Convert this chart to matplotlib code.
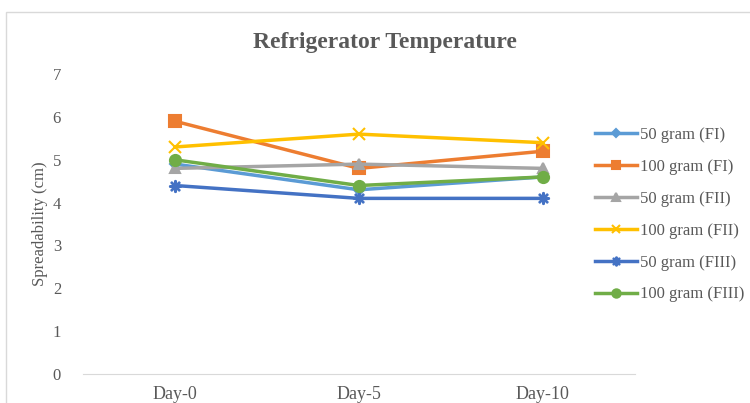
import matplotlib.pyplot as plt
from matplotlib.patches import Rectangle

days = ['Day-0', 'Day-5', 'Day-10']
series_names = ['50 gram (FI)', '100 gram (FI)', '50 gram (FII)',
                '100 gram (FII)', '50 gram (FIII)', '100 gram (FIII)']
fi_50 = [4.9, 4.3, 4.6]
fi_100 = [5.9, 4.8, 5.2]
fii_50 = [4.8, 4.9, 4.8]
fii_100 = [5.3, 5.6, 5.4]
fiii_50 = [4.4, 4.1, 4.1]
fiii_100 = [5.0, 4.4, 4.6]

values = [fi_50, fi_100, fii_50, fii_100, fiii_50, fiii_100]
colors = ['#5B9BD5', '#ED7D31', '#A5A5A5', '#FFC000', '#4472C4', '#70AD47']
markers = ['D', 's', '^', 'x', '$\u2733$', 'o']
msizes = [5, 8, 7, 8, 8, 8]

plt.rcParams['font.family'] = ['Liberation Serif', 'DejaVu Serif']

fig = plt.figure(figsize=(7.5, 4.03), dpi=100)
fig.patches.append(Rectangle((6 / 750, -0.1), 1.1, 1 - 12 / 403 + 0.1,
                             transform=fig.transFigure, fill=False,
                             edgecolor='#D9D9D9', linewidth=1))

ax = fig.add_axes([0.111, 0.072, 0.735, 0.744])
x = list(range(len(days)))
for name, vals, c, m, ms in zip(series_names, values, colors, markers, msizes):
    ax.plot(x, vals, color=c, linewidth=2.5, marker=m, markersize=ms,
            markeredgecolor=c, markerfacecolor=c, markeredgewidth=1.5, label=name)

ax.set_xlim(-0.5, 2.5)
ax.set_ylim(0, 7)
ax.set_yticks(range(0, 8))
ax.set_xticks(x)
ax.set_xticklabels(days, fontsize=13)
ax.tick_params(axis='both', length=0, labelsize=12, colors='#595959')
ax.tick_params(axis='x', pad=9, labelsize=13)
ax.tick_params(axis='y', pad=16)
for s in ['top', 'right', 'left']:
    ax.spines[s].set_visible(False)
ax.spines['bottom'].set_color('#D9D9D9')

ax.set_ylabel('Spreadability (cm)', fontsize=12, color='#595959', labelpad=3)
fig.text(0.513, 0.895, 'Refrigerator Temperature', ha='center', va='center',
         fontsize=17, fontweight='bold', color='#595959')

ax.legend(loc='center left', bbox_to_anchor=(595 / 750, 0.467),
          bbox_transform=fig.transFigure, frameon=False,
          fontsize=12, labelcolor='#595959', handlelength=2.5,
          handletextpad=0.2, labelspacing=0.95, borderaxespad=0, borderpad=0,
          markerscale=0.75)

fig.savefig('out.png', dpi=100)
